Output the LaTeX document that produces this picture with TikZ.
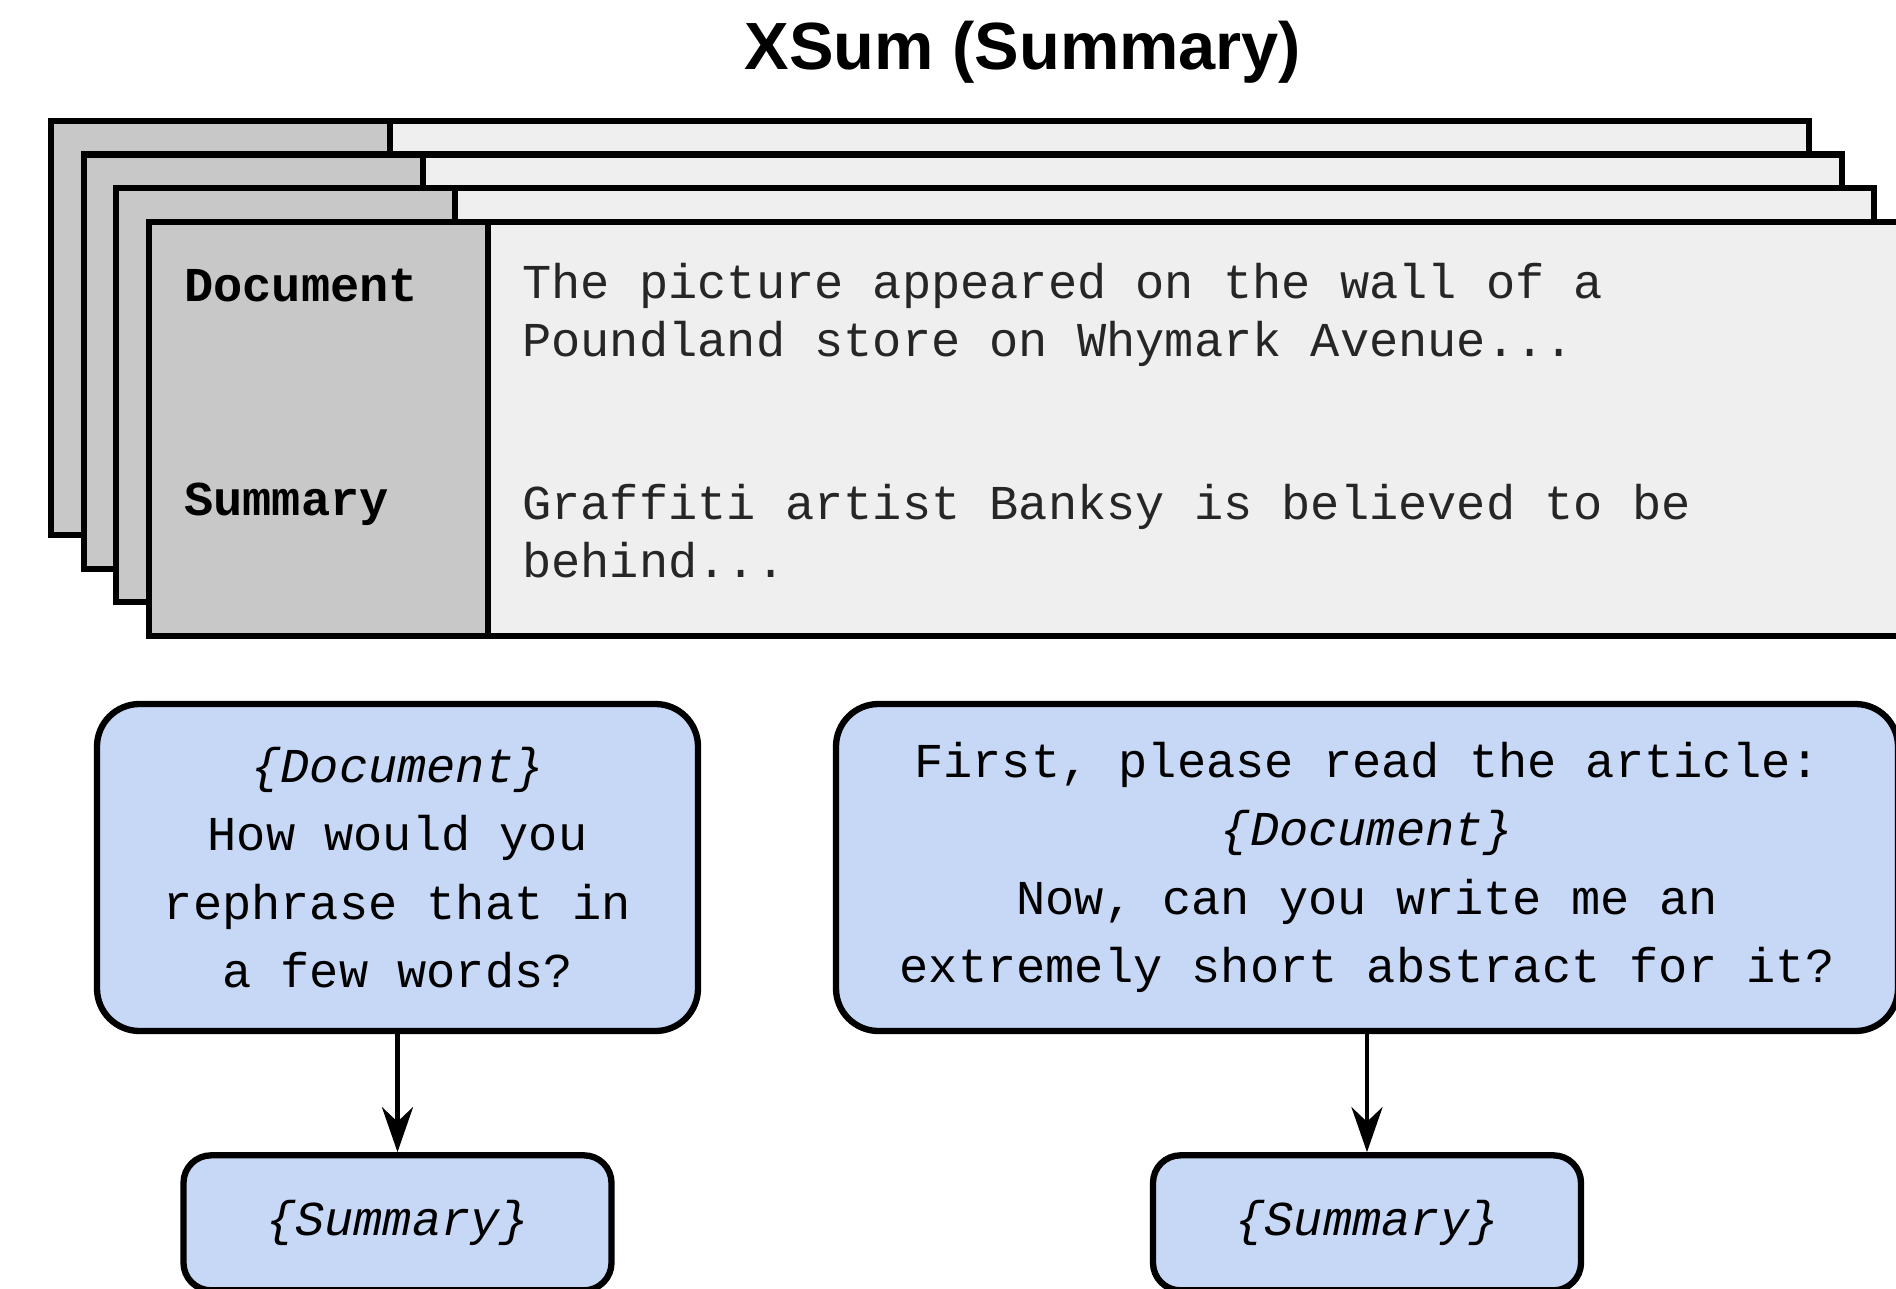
\documentclass[tikz,border=0pt]{standalone}
\usepackage{fontspec}
\setmainfont{Liberation Sans}
\setsansfont{Liberation Sans}
\setmonofont{Liberation Mono}
\usepackage{tikz}
\usetikzlibrary{arrows.meta, positioning}
\definecolor{tabgray}{RGB}{200, 200, 200}
\definecolor{pagegray}{RGB}{239, 239, 239}
\definecolor{promptblue}{RGB}{198, 216, 245}

\begin{document}
\begin{tikzpicture}[
    node distance=2.36cm,
    page/.style={rectangle, draw=black, fill=pagegray, line width=3.6pt,
                 minimum width=35.16cm, minimum height=8.28cm, anchor=north west},
    tab/.style={rectangle, draw=black, fill=tabgray, line width=3.6pt,
                minimum width=6.78cm, minimum height=8.28cm, anchor=north west},
    fieldname/.style={anchor=west, inner sep=0pt,
                      font=\fontsize{27.7pt}{33pt}\selectfont\ttfamily\bfseries},
    fieldtext/.style={anchor=west, align=left, inner sep=0pt, text=black!85,
                      font=\fontsize{27.7pt}{33pt}\selectfont\ttfamily},
    prompt/.style={rectangle, draw=black, fill=promptblue, line width=3.6pt,
                   rounded corners=0.85cm, align=center,
                   font=\fontsize{27.7pt}{39pt}\selectfont\ttfamily},
    answer/.style={prompt, rounded corners=0.55cm,
                   minimum width=8.56cm, minimum height=2.7cm},
    arrow/.style={-{Stealth[length=0.9cm, width=0.62cm]}, line width=2.8pt}
]
\useasboundingbox (0,0) rectangle (37.92,-25.78);
\clip (0,0) rectangle (37.92,-25.78);

\node[font=\fontsize{38pt}{40pt}\selectfont\sffamily\bfseries] (title) at (20.46,-1.05) {XSum (Summary)};

% stacked examples, front one last
\foreach \k in {0,...,3} {
    \node[page] (page\k) at ({0.96+0.65*\k}, {-2.36-0.67*\k}) {};
    \node[tab] (tab\k) at (page\k.north west) {};
}

\node[fieldname] (docname) at (3.68,-5.72) {Document};
\node[fieldname] (sumname) at (3.68,-10.08) {Summary};
\node[fieldtext] (doctext) at (10.44,-6.30) {The picture appeared on the wall of a\\Poundland store on Whymark Avenue...};
\node[fieldtext] (sumtext) at (10.44,-10.63) {Graffiti artist Banksy is believed to be\\behind...};

% prompts
\node[prompt, minimum width=12.02cm, minimum height=6.54cm] (promptA) at (7.95,-17.35)
    {\textit{\{Document\}}\\How would you\\rephrase that in\\a few words?};
\node[prompt, minimum width=21.24cm, minimum height=6.54cm] (promptB) at (27.34,-17.35)
    {First, please read the article:\\\textit{\{Document\}}\\Now, can you write me an\\extremely short abstract for it?};

\node[answer, below=of promptA] (answerA) {\textit{\{Summary\}}};
\node[answer, below=of promptB] (answerB) {\textit{\{Summary\}}};

\draw[arrow] (promptA) -- (answerA);
\draw[arrow] (promptB) -- (answerB);

\end{tikzpicture}
\end{document}
